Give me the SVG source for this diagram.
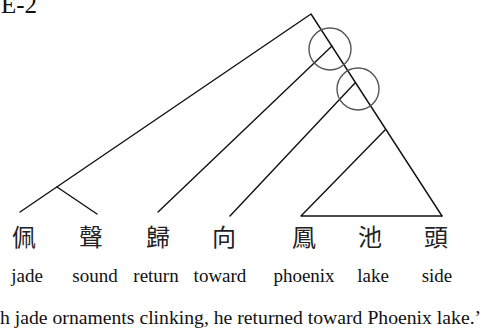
<svg xmlns="http://www.w3.org/2000/svg" width="487" height="329" viewBox="0 0 487 329">
<style>
.ln{stroke:#111;stroke-width:1.4;fill:none;stroke-linecap:round;stroke-linejoin:round}
.cir{stroke:#555;stroke-width:1.4;fill:none}
.zh{font-family:"Noto Sans CJK TC","Noto Sans CJK SC",sans-serif;font-size:24px;text-anchor:middle;fill:#222}
.gl{font-family:"Liberation Serif",serif;font-size:19px;text-anchor:middle;fill:#111}
.tt{font-family:"Liberation Serif",serif;font-size:19.7px;fill:#111}
</style>
<rect width="487" height="329" fill="#fff"/>
<text x="1" y="13" class="tt" style="font-size:25px">E-2</text>
<g id="connectors">
<polyline class="ln" points="20,212 311,14 442,216"/>
<line class="ln" x1="57" y1="187" x2="97" y2="214"/>
<line class="ln" x1="332" y1="46" x2="158" y2="212"/>
<line class="ln" x1="355" y1="83" x2="230" y2="216"/>
<polyline class="ln" points="385,130 301,216 442,216"/>
<circle class="cir" cx="330" cy="49" r="21"/>
<circle class="cir" cx="358" cy="89" r="21"/>
</g>
<g id="w1"><text class="zh" x="24" y="246">佩</text><text class="gl" x="27" y="282">jade</text></g>
<g id="w2"><text class="zh" x="91" y="246">聲</text><text class="gl" x="95" y="282">sound</text></g>
<g id="w3"><text class="zh" x="158" y="246">歸</text><text class="gl" x="156" y="282">return</text></g>
<g id="w4"><text class="zh" x="224" y="246">向</text><text class="gl" x="220" y="282">toward</text></g>
<g id="w5"><text class="zh" x="304" y="246">鳳</text><text class="gl" x="304" y="282">phoenix</text></g>
<g id="w6"><text class="zh" x="370" y="246">池</text><text class="gl" x="373" y="282">lake</text></g>
<g id="w7"><text class="zh" x="436" y="246">頭</text><text class="gl" x="437" y="282">side</text></g>
<text class="tt" x="0" y="324">h jade ornaments clinking, he returned toward Phoenix lake.’</text>
</svg>
